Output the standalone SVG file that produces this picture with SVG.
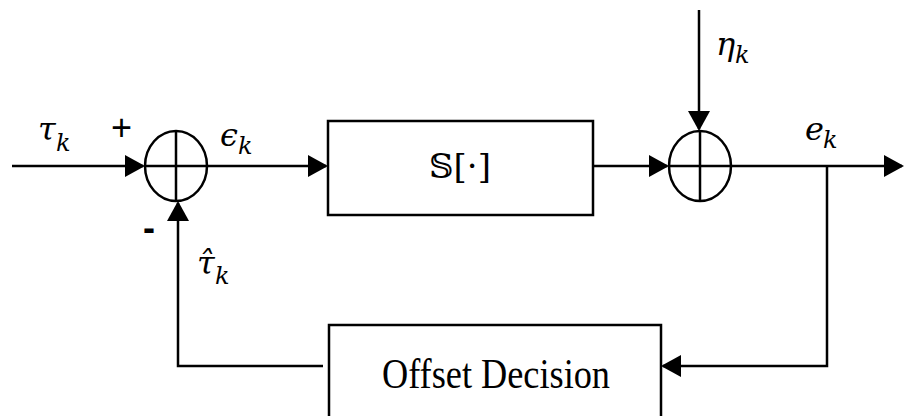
<svg xmlns="http://www.w3.org/2000/svg" width="904" height="416" viewBox="0 0 904 416">
<style>
.ln{fill:none;stroke:#000;stroke-width:2.5}
.box{fill:#fff;stroke:#000;stroke-width:2.5}
.m{font-family:"DejaVu Serif","Liberation Serif",serif;font-style:italic;font-size:32px;fill:#000}
.s{font-family:"DejaVu Serif","Liberation Serif",serif;font-style:italic;font-size:24px;fill:#000}
.sg{font-family:"Liberation Sans",sans-serif;font-size:36px;fill:#000}
.lbl{font-family:"Liberation Serif",serif;font-size:43px;fill:#000}
</style>
<defs>
<marker id="ah" viewBox="0 0 20 22" refX="18" refY="11" markerWidth="20" markerHeight="22" markerUnits="userSpaceOnUse" orient="auto">
<path d="M0,0 L20,11 L0,22 z" fill="#000"/>
</marker>
</defs>
<g id="connectors">
<path class="ln" d="M12,166 H143" marker-end="url(#ah)"/>
<path class="ln" d="M207,166 H326" marker-end="url(#ah)"/>
<path class="ln" d="M593,166 H667" marker-end="url(#ah)"/>
<path class="ln" d="M699,10 V129" marker-end="url(#ah)"/>
<path class="ln" d="M731,166 H902" marker-end="url(#ah)"/>
<path class="ln" d="M827,166 V366 H663" marker-end="url(#ah)"/>
<path class="ln" d="M323,366 H178 V203" marker-end="url(#ah)"/>
</g>
<g id="sum1">
<ellipse class="ln" cx="176" cy="166" rx="31" ry="35"/>
<path class="ln" d="M145,166 H207 M176,131 V201"/>
</g>
<g id="sum2">
<ellipse class="ln" cx="700" cy="166" rx="31" ry="35"/>
<path class="ln" d="M669,166 H731 M700,131 V201"/>
</g>
<g id="system">
<rect class="box" x="328" y="121" width="265" height="94"/>
<text x="460" y="178" text-anchor="middle" font-family="DejaVu Serif,DejaVu Sans,serif" font-size="34">𝕊[·]</text>
</g>
<g id="offset">
<rect class="box" x="329" y="325" width="332" height="110"/>
<text class="lbl" x="382" y="388" textLength="228" lengthAdjust="spacingAndGlyphs">Offset Decision</text>
</g>
<g id="labels">
<text class="m" x="38" y="140">τ</text><text class="s" x="56" y="151">k</text>
<text class="sg" x="111" y="140">+</text>
<text class="m" x="220" y="146">ϵ</text><text class="s" x="238" y="154">k</text>
<text class="sg" x="143" y="240" font-weight="bold">-</text>
<text class="m" x="197" y="274">τ̂</text><text class="s" x="215" y="284">k</text>
<text class="m" x="716" y="55">η</text><text class="s" x="735" y="63">k</text>
<text class="m" x="805" y="140">e</text><text class="s" x="823" y="148">k</text>
</g>
</svg>
